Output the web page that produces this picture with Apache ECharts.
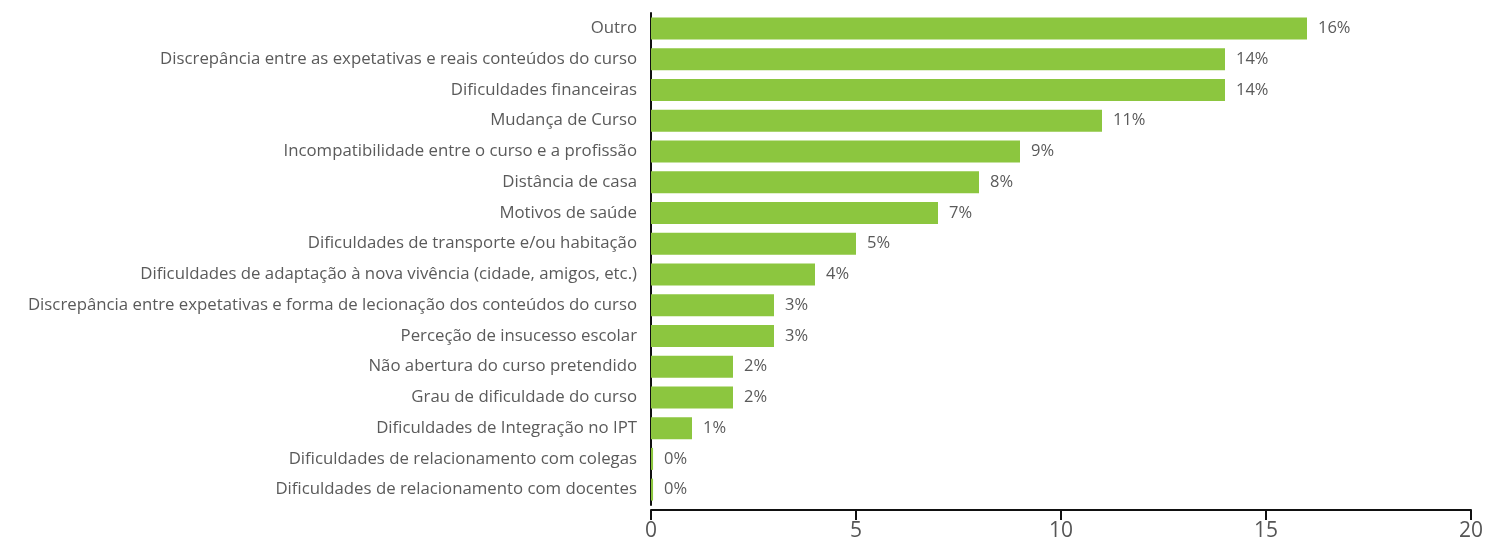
<!DOCTYPE html>
<html>
<head>
<meta charset="utf-8">
<script src="https://cdn.jsdelivr.net/npm/echarts@6/dist/echarts.min.js"></script>
<style>
  html, body { margin: 0; padding: 0; background: #fff; }
  #chart { width: 1503px; height: 544px; }
</style>
</head>
<body>
<div id="chart"></div>
<script>
// motivos, de cima para baixo
const categories = [
  "Outro",
  "Discrepância entre as expetativas e reais conteúdos do curso",
  "Dificuldades financeiras",
  "Mudança de Curso",
  "Incompatibilidade entre o curso e a profissão",
  "Distância de casa",
  "Motivos de saúde",
  "Dificuldades de transporte e/ou habitação",
  "Dificuldades de adaptação à nova vivência (cidade, amigos, etc.)",
  "Discrepância entre expetativas e forma de lecionação dos conteúdos do curso",
  "Perceção de insucesso escolar",
  "Não abertura do curso pretendido",
  "Grau de dificuldade do curso",
  "Dificuldades de Integração no IPT",
  "Dificuldades de relacionamento com colegas",
  "Dificuldades de relacionamento com docentes"
];
const values = [16, 14, 14, 11, 9, 8, 7, 5, 4, 3, 3, 2, 2, 1, 0.05, 0.05];
const xTicks = [0, 5, 10, 15, 20];

const chart = echarts.init(document.getElementById("chart"));
const option = {
  animation: false,
  grid: { left: 651, right: 32, top: 13, bottom: 39 },
  xAxis: {
    type: "value",
    min: xTicks[0],
    max: xTicks[xTicks.length - 1],
    interval: 5,
    offset: 5,
    axisLine: { show: true, lineStyle: { color: "#111", width: 2 } },
    axisTick: { show: true, length: 10, lineStyle: { color: "#111", width: 2 } },
    axisLabel: { color: "#555", fontSize: 21, fontFamily: "Open Sans", margin: 11 },
    splitLine: { show: false }
  },
  yAxis: {
    type: "category",
    inverse: true,
    data: categories,
    axisLine: { show: true, lineStyle: { color: "#111", width: 2 } },
    axisTick: { show: false },
    axisLabel: { color: "#5a5a5a", fontSize: 16.8, fontFamily: "Open Sans", margin: 14 }
  },
  series: [{
    type: "bar",
    data: values,
    barWidth: 22,
    itemStyle: { color: "#8cc63f" },
    label: {
      show: true,
      position: "right",
      distance: 11,
      color: "#5a5a5a",
      fontSize: 16.5,
      fontFamily: "Open Sans",
      formatter: p => Math.round(p.value) + "%"
    }
  }]
};
chart.setOption(option);
</script>
</body>
</html>
